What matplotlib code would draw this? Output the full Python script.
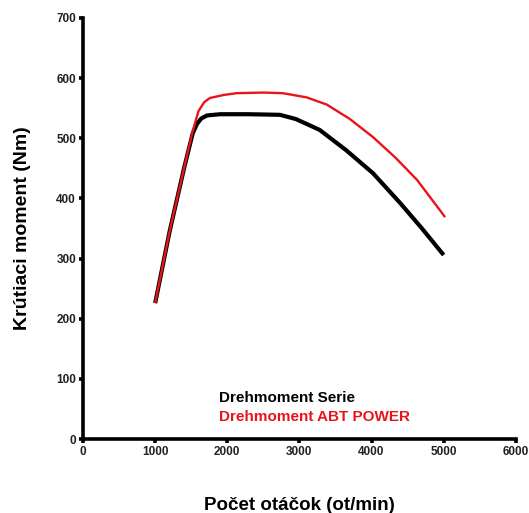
import numpy as np
from matplotlib import pyplot as plt

plt.rcParams['font.family'] = ['Liberation Sans', 'DejaVu Sans']

# torque curves
rpm_serie = [1000, 1200, 1400, 1520, 1580, 1640, 1720, 1900, 2300, 2730, 2950, 3280, 3650, 4020, 4400, 4700, 5000]
nm_serie = [226, 345, 450, 508, 524, 533, 538, 540, 540, 539, 532, 514, 480, 442, 392, 350, 306]

rpm_abt = [1000, 1200, 1400, 1520, 1600, 1680, 1760, 1950, 2130, 2500, 2770, 3100, 3380, 3700, 4020, 4330, 4630, 5020]
nm_abt = [226, 345, 450, 512, 545, 560, 567, 572, 575, 576, 575, 568, 556, 532, 502, 468, 431, 369]

fig = plt.figure(figsize=(5.29, 5.13), dpi=100)
ax = fig.add_axes([0.157, 0.144, 0.818, 0.821])

ax.plot(rpm_serie, nm_serie, color='black', linewidth=3.0, solid_capstyle='butt')
ax.plot(rpm_abt, nm_abt, color='#e8141b', linewidth=1.7, solid_capstyle='butt')

ax.set_xlim(0, 6000)
ax.set_ylim(0, 700)
ax.set_xticks(range(0, 6001, 1000))
ax.set_yticks(range(0, 701, 100))

for s in ['top', 'right']:
	ax.spines[s].set_visible(False)
for s in ['left', 'bottom']:
	ax.spines[s].set_linewidth(2.6)
ax.tick_params(direction='out', length=3, width=2.6, labelsize=8.5, pad=2)
for lab in ax.get_xticklabels() + ax.get_yticklabels():
	lab.set_fontweight('bold')
	lab.set_color('#222222')

ax.set_xlabel('Počet otáčok (ot/min)', fontweight='bold', fontsize=13.5, labelpad=28)
ax.set_ylabel('Krútiaci moment (Nm)', fontweight='bold', fontsize=14, labelpad=18)

ax.text(1880, 69, 'Drehmoment Serie', color='black', fontweight='bold', fontsize=11, va='center')
ax.text(1880, 37, 'Drehmoment ABT POWER', color='#e8141b', fontweight='bold', fontsize=11, va='center')

plt.savefig('out.png', dpi=100)
